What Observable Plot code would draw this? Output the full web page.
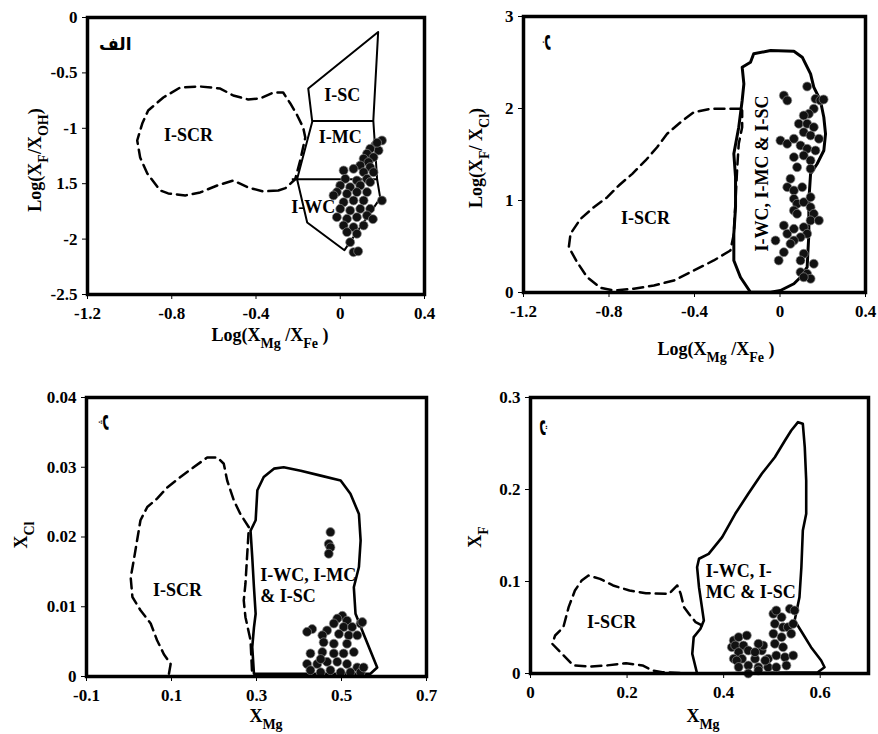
<!DOCTYPE html>
<html><head><meta charset="utf-8">
<script src="https://cdn.jsdelivr.net/npm/d3@7"></script>
<script src="https://cdn.jsdelivr.net/npm/@observablehq/plot@0.6"></script>
<style>
body{margin:0;background:#fff;}
#wrap{position:relative;width:878px;height:734px;font-family:"Liberation Serif","Times New Roman",serif;font-weight:bold;color:#000;overflow:hidden;}
.panel{position:absolute;}
.lab{position:absolute;font-size:18px;white-space:nowrap;line-height:1;}
.lab sub{font-size:14px;vertical-align:-0.5em;}
.c{transform:translate(-50%,-50%);}
.r{transform:translate(-50%,-50%) rotate(-90deg);}
</style></head>
<body><div id="wrap"></div>
<script>
// ---------- Panel A (الف): Log(XF/XOH) vs Log(XMg/XFe) ----------
const aXTicks = [-1.2, -0.8, -0.4, 0, 0.4];
const aXTickLabels = ["-1.2", "-0.8", "-0.4", "0", "0.4"];
const aYTicks = [0, -0.5, -1, -1.5, -2, -2.5];
const aYTickLabels = ["0", "-0.5", "-1", "1.5", "-2", "-2.5"];
const aFieldOutline = [[0.18,-0.13],[-0.152,-0.64],[-0.133,-0.94],[-0.205,-1.46],[-0.157,-1.85],[0.02,-2.10],[0.19,-1.63],[0.175,-1.46],[0.157,-0.93]];
const aFieldDividers = [[-0.133,-0.935,0.157,-0.935],[-0.23,-1.46,0.175,-1.46]];
const aSCR = [[-0.294,-1.561],[-0.366,-1.570],[-0.437,-1.534],[-0.508,-1.471],[-0.584,-1.516],[-0.665,-1.579],[-0.736,-1.606],[-0.817,-1.588],[-0.855,-1.561],[-0.916,-1.408],[-0.950,-1.264],[-0.964,-1.110],[-0.940,-0.957],[-0.912,-0.839],[-0.840,-0.722],[-0.760,-0.632],[-0.665,-0.623],[-0.570,-0.641],[-0.508,-0.704],[-0.437,-0.740],[-0.380,-0.731],[-0.318,-0.677],[-0.271,-0.677],[-0.237,-0.776],[-0.204,-0.884],[-0.176,-0.993],[-0.166,-1.083],[-0.190,-1.29],[-0.214,-1.46],[-0.26,-1.54]];
const aPts = [[0.198,-1.110],[0.166,-1.155],[0.182,-1.200],[0.142,-1.185],[0.127,-1.230],[0.158,-1.261],[0.111,-1.275],[0.134,-1.306],[0.095,-1.336],[0.142,-1.351],[0.063,-1.366],[0.111,-1.396],[0.158,-1.396],[0.016,-1.381],[0.024,-1.456],[0.079,-1.471],[0.127,-1.456],[0.142,-1.486],[0.0,-1.516],[0.047,-1.531],[0.095,-1.516],[-0.016,-1.576],[0.032,-1.591],[0.079,-1.576],[0.127,-1.576],[0.198,-1.652],[-0.032,-1.606],[0.016,-1.667],[0.063,-1.652],[0.111,-1.652],[0.0,-1.727],[0.047,-1.742],[0.095,-1.727],[0.142,-1.727],[-0.016,-1.802],[0.032,-1.817],[0.079,-1.802],[0.127,-1.787],[0.016,-1.877],[0.063,-1.892],[0.111,-1.877],[0.032,-1.937],[0.079,-1.952],[0.047,-2.028],[0.063,-2.118],[0.085,-2.11],[0.175,-1.13],[0.155,-1.82]];
const aLabels = [{t:"I-SC",x:0.01,y:-0.70},{t:"I-MC",x:0.0,y:-1.08},{t:"I-SCR",x:-0.72,y:-1.065},{t:"I-WC",x:-0.128,y:-1.715}];
const aTag = [{t:"الف",x:-1.068,y:-0.244}];

// ---------- Panel B (ب): Log(XF/XCl) vs Log(XMg/XFe) ----------
const bXTicks = [-1.2, -0.8, -0.4, 0, 0.4];
const bXTickLabels = ["-1.2", "-0.8", "-0.4", "0", "0.4"];
const bYTicks = [0, 1, 2, 3];
const bYTickLabels = ["0", "1", "2", "3"];
const bField = [[-0.138,0.003],[-0.185,0.166],[-0.216,0.348],[-0.216,0.638],[-0.208,0.927],[-0.208,1.253],[-0.216,1.508],[-0.193,1.797],[-0.177,2.087],[-0.169,2.268],[-0.177,2.449],[-0.138,2.503],[-0.123,2.595],[-0.044,2.630],[0.065,2.623],[0.104,2.558],[0.143,2.377],[0.158,2.232],[0.189,2.087],[0.205,1.905],[0.213,1.725],[0.205,1.543],[0.174,1.399],[0.143,1.290],[0.135,1.0],[0.135,0.638],[0.127,0.275],[0.096,0.166],[0.065,0.095],[0.002,0.022],[-0.044,0.003]];
const bSCR = [[-0.185,1.997],[-0.247,1.997],[-0.325,1.997],[-0.403,1.960],[-0.465,1.851],[-0.528,1.725],[-0.575,1.579],[-0.629,1.435],[-0.691,1.290],[-0.754,1.163],[-0.808,1.036],[-0.871,0.927],[-0.933,0.801],[-0.980,0.638],[-0.988,0.492],[-0.949,0.329],[-0.902,0.166],[-0.840,0.051],[-0.778,0.022],[-0.684,0.040],[-0.590,0.076],[-0.497,0.130],[-0.403,0.239],[-0.310,0.348],[-0.232,0.457],[-0.216,0.638],[-0.208,1.0],[-0.200,1.362],[-0.193,1.616],[-0.177,1.797],[-0.177,1.978]];
const bPts = [[0.018,2.141],[0.034,2.087],[0.166,2.105],[0.189,2.087],[0.204,2.098],[0.127,2.239],[0.158,1.997],[0.135,1.942],[0.111,1.924],[0.088,1.834],[0.127,1.834],[0.158,1.797],[0.111,1.742],[0.143,1.707],[0.182,1.671],[0.002,1.652],[0.034,1.616],[0.065,1.671],[0.096,1.598],[0.127,1.562],[0.166,1.543],[0.065,1.471],[0.111,1.489],[0.143,1.435],[0.080,1.362],[0.143,1.345],[0.049,1.236],[0.034,1.145],[0.065,1.109],[0.104,1.145],[0.065,1.018],[0.080,0.964],[0.111,0.982],[0.143,1.036],[0.065,0.891],[0.080,0.855],[0.143,0.927],[0.158,0.855],[0.143,0.783],[0.182,0.783],[0.018,0.728],[0.034,0.638],[0.065,0.692],[0.111,0.710],[0.127,0.638],[0.096,0.601],[0.065,0.565],[0.049,0.529],[0.018,0.438],[-0.006,0.348],[0.111,0.421],[0.096,0.348],[0.158,0.312],[0.096,0.221],[0.127,0.203],[0.143,0.149],[0.111,0.166],[-0.021,0.565]];
const bLabels = [{t:"I-SCR",x:-0.629,y:0.804}];
const bRotLabels = [{t:"I-WC, I-MC & I-SC",x:-0.083,y:1.293}];
const bTag = [{t:"ب",x:-1.074,y:2.717}];

// ---------- Panel C (پ): XCl vs XMg ----------
const cXTicks = [-0.1, 0.1, 0.3, 0.5, 0.7];
const cXTickLabels = ["-0.1", "0.1", "0.3", "0.5", "0.7"];
const cYTicks = [0, 0.01, 0.02, 0.03, 0.04];
const cYTickLabels = ["0", "0.01", "0.02", "0.03", "0.04"];
const cField = [[0.294,0.0004],[0.290,0.0042],[0.294,0.0070],[0.298,0.0090],[0.294,0.0128],[0.290,0.0171],[0.286,0.0209],[0.298,0.0224],[0.302,0.0267],[0.317,0.0286],[0.341,0.0298],[0.364,0.0300],[0.404,0.0295],[0.451,0.0288],[0.498,0.0281],[0.521,0.0262],[0.541,0.0233],[0.545,0.0195],[0.541,0.0157],[0.529,0.0128],[0.533,0.0090],[0.552,0.0061],[0.568,0.0037],[0.584,0.0013],[0.568,0.0004]];
const cSCR = [[0.094,0.0004],[0.098,0.0018],[0.082,0.0032],[0.066,0.0052],[0.051,0.0076],[0.027,0.0095],[0.008,0.0114],[0.004,0.0142],[0.011,0.0166],[0.019,0.0195],[0.027,0.0224],[0.043,0.0243],[0.066,0.0255],[0.090,0.0271],[0.121,0.0286],[0.152,0.0300],[0.184,0.0314],[0.208,0.0314],[0.223,0.0305],[0.231,0.0281],[0.247,0.0252],[0.262,0.0233],[0.282,0.0214],[0.274,0.0133],[0.270,0.0109],[0.274,0.0085],[0.286,0.0052],[0.29,0.0],[0.12,0.0]];
const cPts = [[0.474,0.0207],[0.470,0.0190],[0.474,0.0185],[0.470,0.0176],[0.502,0.0087],[0.490,0.0083],[0.513,0.0080],[0.482,0.0076],[0.505,0.0071],[0.525,0.0071],[0.545,0.0076],[0.466,0.0066],[0.494,0.0061],[0.517,0.0059],[0.537,0.0059],[0.431,0.0068],[0.419,0.0064],[0.455,0.0059],[0.458,0.0049],[0.482,0.0047],[0.513,0.0047],[0.427,0.0033],[0.455,0.0035],[0.482,0.0033],[0.505,0.0033],[0.529,0.0035],[0.419,0.0018],[0.443,0.0018],[0.466,0.0021],[0.490,0.0021],[0.513,0.0018],[0.537,0.0013],[0.427,0.0009],[0.451,0.0006],[0.474,0.0009],[0.498,0.0006],[0.521,0.0006],[0.545,0.0006],[0.552,0.0013],[0.549,0.0078],[0.451,0.0025]];
const cLabels = [{t:"I-SCR",x:0.114,y:0.0123}];
const cMultiLabels = [{t:"I-WC, I-MC\n& I-SC",x:0.309,y:0.0132}];
const cTag = [{t:"پ",x:-0.048,y:0.0364}];

// ---------- Panel D (ت): XF vs XMg ----------
const dXTicks = [0, 0.2, 0.4, 0.6];
const dXTickLabels = ["0", "0.2", "0.4", "0.6"];
const dYTicks = [0, 0.1, 0.2, 0.3];
const dYTickLabels = ["0", "0.1", "0.2", "0.3"];
const dField = [[0.345,0.0],[0.335,0.0214],[0.338,0.0395],[0.352,0.0486],[0.359,0.0576],[0.355,0.0721],[0.349,0.0938],[0.345,0.1155],[0.349,0.1247],[0.369,0.1301],[0.397,0.1482],[0.424,0.1736],[0.451,0.1953],[0.479,0.2171],[0.506,0.2351],[0.527,0.2533],[0.540,0.2641],[0.554,0.2732],[0.564,0.2714],[0.568,0.2460],[0.571,0.2098],[0.571,0.1736],[0.564,0.1554],[0.561,0.1155],[0.557,0.0829],[0.547,0.0576],[0.564,0.0432],[0.581,0.0286],[0.602,0.0141],[0.609,0.0068],[0.595,0.0014]];
const dSCR = [[0.355,0.0522],[0.342,0.0558],[0.328,0.0649],[0.318,0.0721],[0.311,0.0866],[0.304,0.0957],[0.287,0.0866],[0.239,0.0873],[0.205,0.0902],[0.171,0.0957],[0.144,0.1029],[0.120,0.1065],[0.106,0.1011],[0.092,0.0902],[0.079,0.0721],[0.068,0.0503],[0.051,0.0413],[0.045,0.0323],[0.072,0.0177],[0.089,0.0087],[0.123,0.0076],[0.157,0.0087],[0.198,0.0112],[0.232,0.0087],[0.253,0.0033],[0.273,0.0014],[0.328,0.0]];
const dPts = [[0.417,0.0286],[0.421,0.0359],[0.431,0.0395],[0.448,0.0413],[0.424,0.0304],[0.441,0.0304],[0.431,0.0232],[0.451,0.0250],[0.421,0.0160],[0.438,0.0160],[0.465,0.0160],[0.479,0.0250],[0.482,0.0304],[0.451,0.0087],[0.472,0.0068],[0.492,0.0068],[0.509,0.0068],[0.492,0.0160],[0.509,0.0196],[0.503,0.0649],[0.520,0.0612],[0.506,0.0540],[0.523,0.0503],[0.503,0.0432],[0.520,0.0395],[0.506,0.0323],[0.523,0.0286],[0.527,0.0177],[0.530,0.0087],[0.509,0.0685],[0.533,0.0503],[0.537,0.0703],[0.547,0.0685],[0.544,0.0540],[0.540,0.0432],[0.544,0.0196],[0.472,0.0323],[0.465,0.0232],[0.451,0.0],[0.472,0.0033],[0.486,0.0141],[0.427,0.014],[0.431,0.007]];
const dLabels = [{t:"I-SCR",x:0.168,y:0.0554}];
const dMultiLabels = [{t:"I-WC, I-\nMC & I-SC",x:0.363,y:0.101}];
const dTag = [{t:"ت",x:0.031,y:0.267}];

// ---------- drawing ----------
const FONT = "Liberation Serif, Times New Roman, serif";
const px = d => d[0], py = d => d[1];

function fmt(ticks, labels){ const m = new Map(ticks.map((t,i)=>[t,labels[i]])); return d => m.get(d) ?? ""; }

function panel(o){
  const marks = [];
  marks.push(Plot.axisX({ticks:o.xt, tickFormat:fmt(o.xt,o.xl), tickSize:5, tickPadding:7, label:null, fontSize:17, fontWeight:"bold", fontFamily:FONT}));
  marks.push(Plot.axisY({ticks:o.yt, tickFormat:fmt(o.yt,o.yl), tickSize:5, tickPadding:5, label:null, fontSize:17, fontWeight:"bold", fontFamily:FONT}));
  marks.push(Plot.line(o.scr, {x:px, y:py, curve: o.scrClosed ? "linear-closed" : "linear", stroke:"#000", strokeWidth:2.5, strokeDasharray:"10,6"}));
  marks.push(Plot.line(o.field, {x:px, y:py, curve:"linear-closed", stroke:"#000", strokeWidth:o.fieldWidth, strokeLinejoin:"round"}));
  if (o.dividers) marks.push(Plot.link(o.dividers, {x1:d=>d[0], y1:d=>d[1], x2:d=>d[2], y2:d=>d[3], stroke:"#000", strokeWidth:o.fieldWidth}));
  marks.push(Plot.dot(o.pts, {x:px, y:py, r:4.5, fill:"#111", stroke:"#8a8a8a", strokeWidth:0.7}));
  const tx = {x:"x", y:"y", text:"t", fontSize:18, fontWeight:"bold", fontFamily:FONT, fill:"#000"};
  if (o.labels) marks.push(Plot.text(o.labels, tx));
  if (o.rotLabels) marks.push(Plot.text(o.rotLabels, {...tx, rotate:-90}));
  if (o.multi) marks.push(Plot.text(o.multi, {...tx, textAnchor:"start", lineHeight:1.2}));
  marks.push(Plot.text(o.tag, {...tx, rotate:o.tagRotate || 0, fontFamily:"Noto Sans, DejaVu Sans, sans-serif", fontSize:17}));
  marks.push(Plot.frame({stroke:"#000", strokeWidth:3.5}));
  const p = Plot.plot({
    width:o.w, height:o.h,
    marginLeft:o.ml, marginRight:o.mr, marginTop:o.mt, marginBottom:o.mb,
    x:{domain:o.xd}, y:{domain:o.yd},
    style:{fontFamily:FONT, fontSize:"17px", fontWeight:"bold", color:"#000", background:"transparent", overflow:"visible"},
    marks
  });
  const div = document.createElement("div");
  div.className = "panel";
  div.style.left = o.left + "px"; div.style.top = o.top + "px";
  div.appendChild(p);
  document.getElementById("wrap").appendChild(div);
}

panel({left:0, top:0, w:440, h:350, ml:87, mr:16, mt:17, mb:56,
  xd:[-1.2,0.4], yd:[-2.5,0], xt:aXTicks, xl:aXTickLabels, yt:aYTicks, yl:aYTickLabels,
  scr:aSCR, scrClosed:true, field:aFieldOutline, fieldWidth:2, dividers:aFieldDividers, pts:aPts,
  labels:aLabels, tag:aTag});
panel({left:440, top:0, w:438, h:370, ml:83, mr:13, mt:16, mb:78,
  xd:[-1.2,0.4], yd:[0,3], xt:bXTicks, xl:bXTickLabels, yt:bYTicks, yl:bYTickLabels,
  scr:bSCR, scrClosed:true, field:bField, fieldWidth:3, pts:bPts,
  labels:bLabels, rotLabels:bRotLabels, tag:bTag, tagRotate:90});
panel({left:0, top:380, w:440, h:354, ml:86, mr:14, mt:17, mb:58,
  xd:[-0.1,0.7], yd:[0,0.04], xt:cXTicks, xl:cXTickLabels, yt:cYTicks, yl:cYTickLabels,
  scr:cSCR, scrClosed:false, field:cField, fieldWidth:2.6, pts:cPts,
  labels:cLabels, multi:cMultiLabels, tag:cTag, tagRotate:90});
panel({left:440, top:380, w:438, h:354, ml:90, mr:10, mt:17, mb:61,
  xd:[0,0.7], yd:[0,0.3], xt:dXTicks, xl:dXTickLabels, yt:dYTicks, yl:dYTickLabels,
  scr:dSCR, scrClosed:false, field:dField, fieldWidth:2.6, pts:dPts,
  labels:dLabels, multi:dMultiLabels, tag:dTag, tagRotate:90});

// axis titles (with subscripts)
const axisTitles = [
  {html:"Log(X<sub>F</sub>/X<sub>OH</sub>)", x:38, y:160, rot:true},
  {html:"Log(X<sub>Mg</sub> /X<sub>Fe</sub> )", x:270, y:338, rot:false},
  {html:"Log(X<sub>F</sub>/ X<sub>Cl</sub>)", x:479, y:158, rot:true},
  {html:"Log(X<sub>Mg</sub> /X<sub>Fe</sub> )", x:716, y:352, rot:false},
  {html:"X<sub>Cl</sub>", x:24, y:535, rot:true},
  {html:"X<sub>Mg</sub>", x:266, y:719, rot:false},
  {html:"X<sub>F</sub>", x:478, y:537, rot:true},
  {html:"X<sub>Mg</sub>", x:703, y:719, rot:false}
];
for (const a of axisTitles){
  const el = document.createElement("div");
  el.className = "lab " + (a.rot ? "r" : "c");
  el.innerHTML = a.html;
  el.style.left = a.x + "px"; el.style.top = a.y + "px";
  document.getElementById("wrap").appendChild(el);
}
</script>
</body></html>
